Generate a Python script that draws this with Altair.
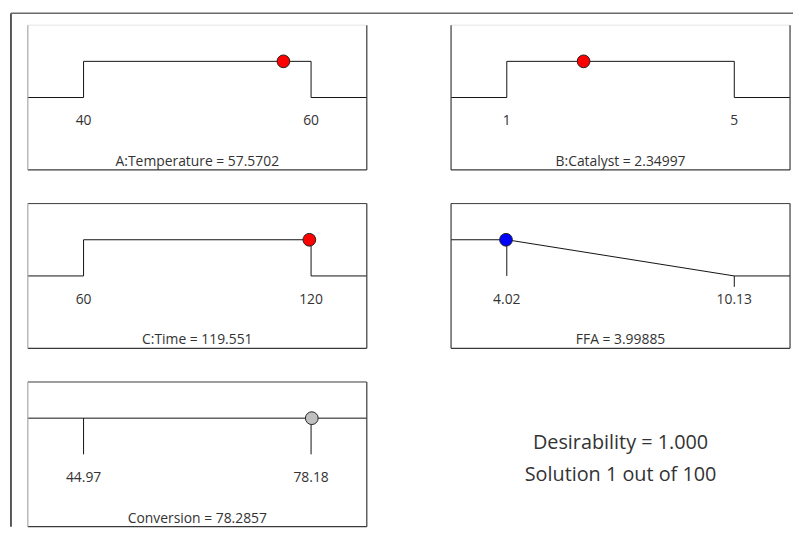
import altair as alt
import pandas as pd

# ---- data ----
names = ["A:Temperature", "B:Catalyst", "C:Time", "FFA", "Conversion"]
lows = [40, 1, 60, 4.02, 44.97]
highs = [60, 5, 120, 10.13, 78.18]
low_labels = ["40", "1", "60", "4.02", "44.97"]
high_labels = ["60", "5", "120", "10.13", "78.18"]
solution_values = [57.5702, 2.34997, 119.551, 3.99885, 78.2857]
value_labels = ["57.5702", "2.34997", "119.551", "3.99885", "78.2857"]
goals = ["range", "range", "range", "minimize", "none"]
point_desirability = [1, 1, 1, 1, 1]
desirability_text = "1.000"
solution_number = 1
solution_count = 100

# ---- styles ----
point_colors = ["#ff0000", "#ff0000", "#ff0000", "#0000ff", "#c0c0c0"]
W, H = 342, 146
MARGIN = 0.245
FONT = "Open Sans"
TEXT_COLOR = "#333333"
LINE_COLOR = "#111111"
EDGE = "#3a3a3a"


def panel(i):
    lo, hi = lows[i], highs[i]
    span = hi - lo
    dmin, dmax = lo - MARGIN * span, hi + MARGIN * span
    xs = alt.Scale(domain=[dmin, dmax], nice=False, zero=False)
    ys = alt.Scale(domain=[-2, 2], nice=False, zero=False)
    goal = goals[i]
    if goal == "range":
        px, py = [dmin, lo, lo, hi, hi, dmax], [0, 0, 1, 1, 0, 0]
        ticks = []
    elif goal == "minimize":
        px, py = [dmin, lo, hi, dmax], [1, 1, 0, 0]
        ticks = [(lo, 1, 0), (hi, 0, -0.3)]
    else:
        px, py = [dmin, dmax], [1, 1]
        ticks = [(lo, 1, 0), (hi, 1, 0)]

    path = pd.DataFrame({"x": px, "y": py, "o": list(range(len(px)))})
    line = alt.Chart(path).mark_line(color=LINE_COLOR, strokeWidth=1).encode(
        x=alt.X("x:Q", scale=xs, axis=None),
        y=alt.Y("y:Q", scale=ys, axis=None),
        order="o:Q",
    )
    layers = [line]
    if ticks:
        tdf = pd.DataFrame({"x": [t[0] for t in ticks], "y": [t[1] for t in ticks],
                            "y2": [t[2] for t in ticks]})
        layers.append(alt.Chart(tdf).mark_rule(color=LINE_COLOR, strokeWidth=1).encode(
            x=alt.X("x:Q", scale=xs, axis=None),
            y=alt.Y("y:Q", scale=ys, axis=None),
            y2="y2:Q",
        ))
    ldf = pd.DataFrame({"x": [lo, hi], "t": [low_labels[i], high_labels[i]]})
    layers.append(alt.Chart(ldf).mark_text(font=FONT, fontSize=14, color=TEXT_COLOR,
                                           baseline="middle").encode(
        x=alt.X("x:Q", scale=xs, axis=None),
        y=alt.value(H / 2 + 24),
        text="t:N",
    ))
    cdf = pd.DataFrame({"t": [f"{names[i]} = {value_labels[i]}"]})
    layers.append(alt.Chart(cdf).mark_text(font=FONT, fontSize=14, color=TEXT_COLOR,
                                           baseline="middle").encode(
        x=alt.value(W / 2),
        y=alt.value(H / 2 + 65),
        text="t:N",
    ))
    pdf = pd.DataFrame({"x": [solution_values[i]], "y": [point_desirability[i]]})
    layers.append(alt.Chart(pdf).mark_point(filled=True, fill=point_colors[i], fillOpacity=1,
                                            stroke="#222222", strokeWidth=1, size=165,
                                            shape="circle", opacity=1).encode(
        x=alt.X("x:Q", scale=xs, axis=None),
        y=alt.Y("y:Q", scale=ys, axis=None),
    ))
    # box edges
    left_c = "#a8a8a8" if i % 2 == 0 else EDGE
    top_c = "#e4e4e4" if i < 2 else EDGE
    one = pd.DataFrame({"a": [0]})
    layers.append(alt.Chart(one).mark_rule(color=top_c, strokeWidth=1).encode(
        x=alt.value(0), x2=alt.value(W), y=alt.value(0)))
    layers.append(alt.Chart(one).mark_rule(color=EDGE, strokeWidth=1.2).encode(
        x=alt.value(0), x2=alt.value(W), y=alt.value(H)))
    layers.append(alt.Chart(one).mark_rule(color=left_c, strokeWidth=1.2).encode(
        x=alt.value(0), y=alt.value(0), y2=alt.value(H)))
    layers.append(alt.Chart(one).mark_rule(color=EDGE, strokeWidth=1.2).encode(
        x=alt.value(W), y=alt.value(0), y2=alt.value(H)))
    if i == 0:
        # outer window frame
        layers.append(alt.Chart(one).mark_rule(color="#222222", strokeWidth=1.5).encode(
            x=alt.value(-17), y=alt.value(-12), y2=alt.value(506)))
        layers.append(alt.Chart(one).mark_rule(color="#6a6a6a", strokeWidth=1.5).encode(
            x=alt.value(-17), x2=alt.value(772), y=alt.value(-12)))
    return alt.layer(*layers).properties(width=W, height=H)


info_lines = [f"Desirability = {desirability_text}",
              f"Solution {solution_number} out of {solution_count}"]
info = alt.layer(
    alt.Chart(pd.DataFrame({"t": [info_lines[0]]})).mark_text(
        font=FONT, fontSize=20, color=TEXT_COLOR, baseline="middle").encode(
        x=alt.value(W / 2), y=alt.value(62), text="t:N"),
    alt.Chart(pd.DataFrame({"t": [info_lines[1]]})).mark_text(
        font=FONT, fontSize=20, color=TEXT_COLOR, baseline="middle").encode(
        x=alt.value(W / 2), y=alt.value(93.5), text="t:N"),
).properties(width=W, height=H)

p = [panel(i) for i in range(5)]
chart = alt.concat(*p, info, columns=2, spacing={"row": 34, "column": 85},
                   bounds="flush").properties(
    padding={"left": 2, "top": 2, "right": 0, "bottom": 0},
    background="white",
).configure_view(strokeWidth=0)

chart.save("out.html", embed_options={"renderer": "svg", "actions": False})
